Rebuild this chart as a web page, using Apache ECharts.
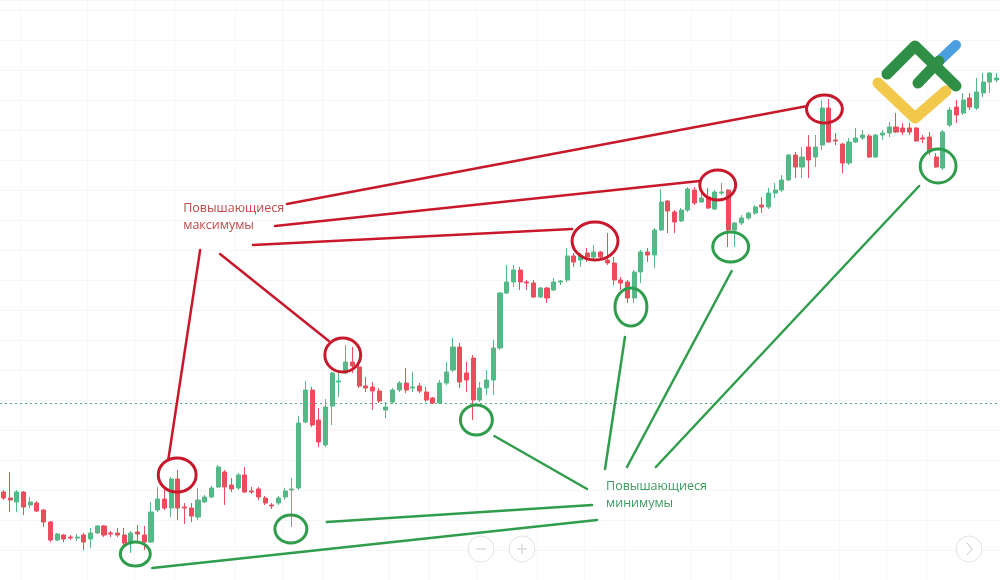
<!DOCTYPE html>
<html><head><meta charset="utf-8">
<script src="https://cdn.jsdelivr.net/npm/echarts@6/dist/echarts.min.js"></script>
<style>html,body{margin:0;padding:0;background:#fff}#c{width:1000px;height:580px}</style>
</head><body><div id="c"></div>
<script>
// price values (arbitrary units) for each candle
const opens  = [88,82,78,88,75,77,70,58,40,45,43,42,45,41,47,54,47,47,45,38,48,45,38,70,81,72,101,73,72,63,78,83,93,108,95,92,105,89,91,82,75,77,83,90,92,158,190,160,135,174,198,207,218,213,194,193,189,170,178,190,197,192,194,188,182,177,197,210,233,207,222,180,192,200,232,287,298,310,298,297,283,292,290,298,300,324,320,327,323,328,320,317,300,298,282,308,328,325,350,379,368,359,370,390,378,383,371,387,390,350,357,362,367,375,373,387,390,400,425,413,433,423,435,472,440,436,417,438,442,444,423,445,447,453,452,452,452,442,443,423,412,455,473,467,482,472,487,498,500];
const closes = [82,80,88,73,78,69,58,40,46,41,42,43,38,47,54,45,46,45,37,47,46,38,68,81,72,101,72,72,64,80,83,92,113,93,91,105,88,88,83,77,74,82,89,91,157,190,155,138,173,207,199,218,214,194,192,189,179,173,190,197,190,193,189,180,177,197,208,233,198,200,180,192,200,232,287,298,310,298,297,283,292,282,298,299,324,318,324,323,328,323,317,300,297,282,308,328,325,350,378,369,358,370,391,377,382,372,388,388,350,357,362,367,373,373,387,390,400,425,413,423,420,433,472,438,439,417,438,442,445,423,445,447,453,448,448,448,439,441,428,413,448,470,465,480,473,488,498,507,502];
const lows   = [80,68,68,65,72,68,53,38,39,38,40,39,30,32,46,43,43,43,33,27,38,30,37,68,70,63,60,56,58,60,77,82,92,75,88,90,87,86,80,75,71,75,80,53,90,157,153,133,133,155,183,206,207,192,188,170,177,162,176,188,187,188,187,178,176,176,195,208,192,188,160,178,185,185,230,286,293,290,290,282,282,277,289,295,298,313,313,318,321,320,315,295,290,277,277,297,318,312,349,347,347,358,368,375,377,371,370,385,333,333,355,360,365,367,371,382,388,399,402,402,402,413,430,437,435,407,415,437,440,422,422,440,443,447,445,445,438,437,425,412,410,453,457,465,470,470,483,487,498];
const highs  = [90,108,90,89,83,79,71,59,47,46,45,46,47,52,55,55,49,52,52,49,55,54,78,93,93,103,110,77,77,92,85,94,115,110,102,107,113,93,93,84,77,84,92,102,164,199,193,172,181,208,208,235,233,215,203,198,192,178,192,199,212,208,197,193,183,200,218,242,237,218,225,198,210,240,288,315,315,313,300,300,293,293,302,300,332,327,327,332,335,329,347,323,303,300,310,330,332,352,391,380,370,372,393,393,387,392,390,397,391,358,365,368,375,383,392,397,405,426,428,433,445,445,480,481,447,437,442,452,450,446,446,450,458,467,457,457,453,445,448,427,450,473,480,487,487,502,507,508,507];
const categories = opens.map((_, i) => 'Бар ' + (i + 1));
const referenceLevel = 177;

// annotations in data space: [barIndex, price, halfWidthInBars, halfHeightInPrice]
const highCircles = [[25.9,105,2.82,17],[50.57,225,2.67,17],[88.16,339,3.42,19],[106.44,395,2.67,15],[122.34,471,2.67,14]];
const lowCircles  = [[19.66,26,2.23,12],[42.84,51,2.38,14],[70.48,160,2.38,15],[93.51,273,2.38,19],[108.37,333,2.67,15],[139.28,414,2.67,17]];
// [bar1, price1, bar2, price2]
const highLines = [[42.25,376,119.81,474],[40.47,354,103.76,399],[37.20,335,84.74,351],[32.29,326,48.49,239],[29.32,330,24.57,120]];
const lowLines  = [[22.19,12,88.46,60],[48.19,58,87.72,75],[73.16,144,86.97,91],[92.62,243,89.65,111],[108.52,309,92.92,113],[136.45,394,97.23,113]];
const labelTexts = ['Повышающиеся\nмаксимумы', 'Повышающиеся\nминимумы'];
const labelPos = [[26.8,380],[89.8,102]];
const gridBars = [3,13,20,26,35,42,48,58,64,71,80,87,93,103,109,116,125,132,138];

const RED = '#c8192c', GREEN = '#2f9d4c';

function ellipseItem(color){
  return function(params, api){
    const c = api.coord([api.value(0), api.value(1)]);
    const e = api.coord([api.value(0)+api.value(2), api.value(1)+api.value(3)]);
    return {type:'ellipse', shape:{cx:c[0], cy:c[1], rx:Math.abs(e[0]-c[0]), ry:Math.abs(e[1]-c[1])},
      style:{fill:'none', stroke:color, lineWidth:3}};
  };
}
function lineItem(color){
  return function(params, api){
    const a = api.coord([api.value(0), api.value(1)]);
    const b = api.coord([api.value(2), api.value(3)]);
    return {type:'line', shape:{x1:a[0], y1:a[1], x2:b[0], y2:b[1]},
      style:{stroke:color, lineWidth:2.5, lineCap:'round'}};
  };
}

const chart = echarts.init(document.getElementById('c'), null, {renderer:'canvas'});
chart.setOption({
  animation:false,
  backgroundColor:'#ffffff',
  grid:{left:-0.7, right:-2.1, top:0, bottom:0},
  xAxis:[
    {type:'category', data:categories, axisLine:{show:false}, axisTick:{show:false}, axisLabel:{show:false},
     splitLine:{show:true, interval:(idx)=>gridBars.indexOf(idx)>=0, lineStyle:{color:'#f5f6f8', width:1}}},
    {type:'value', min:-0.5, max:opens.length-0.5, show:false}
  ],
  yAxis:{type:'value', min:0, max:580, interval:30, axisLine:{show:false}, axisTick:{show:false}, axisLabel:{show:false},
     splitLine:{show:true, lineStyle:{color:'#f5f6f8', width:1}}},
  series:[
    {type:'candlestick', xAxisIndex:0, yAxisIndex:0, barWidth:'68%',
     data:opens.map((o,i)=>[o, closes[i], lows[i], highs[i]]),
     itemStyle:{color:'#53b987', color0:'#eb4d5c', borderColor:'#53b987', borderColor0:'#eb4d5c', borderWidth:1},
     markLine:{silent:true, symbol:'none', label:{show:false},
       lineStyle:{type:[2,3], color:'#4fae84', width:1},
       data:[{yAxis:referenceLevel}]}},
    {type:'custom', xAxisIndex:1, yAxisIndex:0, data:highLines, encode:{x:0,y:1}, renderItem:lineItem(RED), z:5},
    {type:'custom', xAxisIndex:1, yAxisIndex:0, data:lowLines, encode:{x:0,y:1}, renderItem:lineItem(GREEN), z:5},
    {type:'custom', xAxisIndex:1, yAxisIndex:0, data:highCircles, encode:{x:0,y:1}, renderItem:ellipseItem(RED), z:6},
    {type:'custom', xAxisIndex:1, yAxisIndex:0, data:lowCircles, encode:{x:0,y:1}, renderItem:ellipseItem(GREEN), z:6},
    {type:'custom', xAxisIndex:1, yAxisIndex:0, data:labelPos, encode:{x:0,y:1}, z:7,
     renderItem:function(params, api){
       const p = api.coord([api.value(0), api.value(1)]);
       return {type:'text', x:p[0], y:p[1], style:{text:labelTexts[params.dataIndex],
         fill: params.dataIndex===0 ? '#c24a48' : '#3f9a60', font:'12.5px "Open Sans"', lineHeight:17,
         align:'left', verticalAlign:'top'}};
     }}
  ],
  graphic:[
    {type:'polyline', z:100, shape:{points:[[878,83],[915,118],[946,91]]}, style:{stroke:'#f2c84b', lineWidth:11, lineCap:'round', lineJoin:'round', fill:'none'}},
    {type:'polyline', z:101, shape:{points:[[887,74],[915,46],[956,86]]}, style:{stroke:'#2f8f46', lineWidth:11, lineCap:'round', lineJoin:'round', fill:'none'}},
    {type:'line', z:101, shape:{x1:938, y1:62, x2:956, y2:45}, style:{stroke:'#4a9fe0', lineWidth:10, lineCap:'round'}},
    {type:'line', z:102, shape:{x1:918, y1:83, x2:939, y2:61}, style:{stroke:'#2f8f46', lineWidth:11, lineCap:'round'}},
    {type:'circle', z:100, shape:{cx:481, cy:549, r:13}, style:{fill:'#fff', stroke:'#e3e3e3', lineWidth:1}},
    {type:'line', z:101, shape:{x1:476, y1:549, x2:486, y2:549}, style:{stroke:'#c8c8c8', lineWidth:1}},
    {type:'circle', z:100, shape:{cx:522, cy:549, r:13}, style:{fill:'#fff', stroke:'#e3e3e3', lineWidth:1}},
    {type:'line', z:101, shape:{x1:517, y1:549, x2:527, y2:549}, style:{stroke:'#c8c8c8', lineWidth:1}},
    {type:'line', z:101, shape:{x1:522, y1:544, x2:522, y2:554}, style:{stroke:'#c8c8c8', lineWidth:1}},
    {type:'circle', z:100, shape:{cx:969, cy:549, r:13}, style:{fill:'#fff', stroke:'#e3e3e3', lineWidth:1}},
    {type:'polyline', z:101, shape:{points:[[967,543],[972,549],[967,555]]}, style:{stroke:'#c8c8c8', lineWidth:1, fill:'none'}}
  ]
});
</script>
</body></html>
